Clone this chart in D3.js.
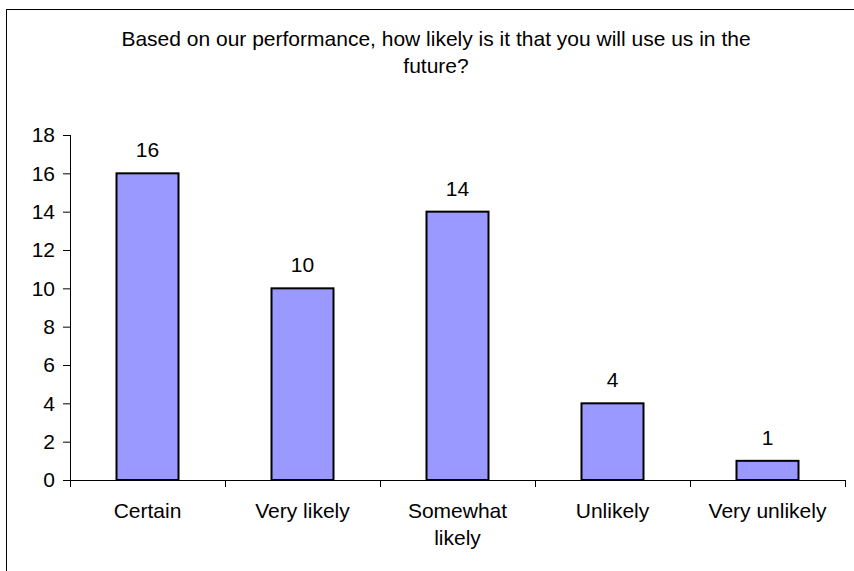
<!DOCTYPE html>
<html>
<head>
<meta charset="utf-8">
<script src="https://cdn.jsdelivr.net/npm/d3@7"></script>
<style>
  html, body { margin: 0; padding: 0; background: #fff; }
  svg { display: block; font-family: "Liberation Sans", Arial, sans-serif; }
</style>
</head>
<body>
<svg id="chart" width="854" height="571"></svg>
<script>
// Survey answers and their counts
const categories = ["Certain", "Very likely", "Somewhat likely", "Unlikely", "Very unlikely"];
const counts = [16, 10, 14, 4, 1];
const yTicks = [0, 2, 4, 6, 8, 10, 12, 14, 16, 18];
const titleLines = ["Based on our performance, how likely is it that you will use us in the", "future?"];

const svg = d3.select("#chart");
const W = 854, H = 571;
const margin = { left: 70, right: 9, top: 135, bottom: 91 };
const fontSize = 21;

// Outer frame of the chart area
svg.append("rect")
  .attr("x", 6.5).attr("y", 9.5)
  .attr("width", 900).attr("height", 700)
  .attr("fill", "#fff").attr("stroke", "#000").attr("stroke-width", 1);

const x = d3.scaleBand()
  .domain(categories)
  .range([margin.left, W - margin.right])
  .paddingInner(0.6).paddingOuter(0.3);

const y = d3.scaleLinear()
  .domain([0, 18])
  .range([H - margin.bottom, margin.top]);

// Title
svg.append("text")
  .attr("x", 436).attr("y", 46)
  .attr("text-anchor", "middle")
  .attr("font-size", fontSize)
  .selectAll("tspan")
  .data(titleLines)
  .join("tspan")
  .attr("x", 436)
  .attr("dy", (d, i) => i === 0 ? 0 : 27)
  .text(d => d);

// Bars
svg.append("g")
  .selectAll("rect")
  .data(categories)
  .join("rect")
  .attr("x", d => x(d))
  .attr("y", (d, i) => y(counts[i]))
  .attr("width", x.bandwidth())
  .attr("height", (d, i) => y(0) - y(counts[i]))
  .attr("fill", "#9999FF")
  .attr("stroke", "#000")
  .attr("stroke-width", 2);

// Value labels
svg.append("g")
  .selectAll("text")
  .data(categories)
  .join("text")
  .attr("x", d => x(d) + x.bandwidth() / 2)
  .attr("y", (d, i) => y(counts[i]) - 16)
  .attr("text-anchor", "middle")
  .attr("font-size", fontSize)
  .text((d, i) => counts[i]);

// Y axis
const yAxis = svg.append("g")
  .attr("transform", `translate(${margin.left},0)`)
  .call(d3.axisLeft(y).tickValues(yTicks).tickSize(7).tickPadding(8).tickFormat(d3.format("d")));
yAxis.select(".domain").attr("stroke", "#000").attr("d", `M0.5,${y(18)}V${y(0)}`);
yAxis.selectAll(".tick line").attr("stroke", "#000");
yAxis.selectAll(".tick text").attr("font-size", fontSize).attr("fill", "#000")
  .attr("font-family", "Liberation Sans, Arial, sans-serif");

// X axis with tick marks at category boundaries
const step = x.step();
const boundaries = d3.range(categories.length + 1).map(i => margin.left + i * step);
const xg = svg.append("g");
xg.append("line")
  .attr("x1", margin.left).attr("x2", W - margin.right)
  .attr("y1", y(0) + 0.5).attr("y2", y(0) + 0.5)
  .attr("stroke", "#000");
xg.selectAll("line.tk")
  .data(boundaries)
  .join("line")
  .attr("class", "tk")
  .attr("x1", d => Math.round(d) + 0.5).attr("x2", d => Math.round(d) + 0.5)
  .attr("y1", y(0)).attr("y2", y(0) + 7)
  .attr("stroke", "#000");

// Category labels, wrapped where the text is long
const catLines = { "Somewhat likely": ["Somewhat", "likely"] };
xg.selectAll("text.cat")
  .data(categories)
  .join("text")
  .attr("class", "cat")
  .attr("text-anchor", "middle")
  .attr("font-size", fontSize)
  .attr("y", y(0) + 38)
  .each(function (d) {
    const lines = catLines[d] || [d];
    const cx = x(d) + x.bandwidth() / 2;
    d3.select(this).selectAll("tspan")
      .data(lines)
      .join("tspan")
      .attr("x", cx)
      .attr("dy", (l, i) => i === 0 ? 0 : 27)
      .text(l => l);
  });
</script>
</body>
</html>
